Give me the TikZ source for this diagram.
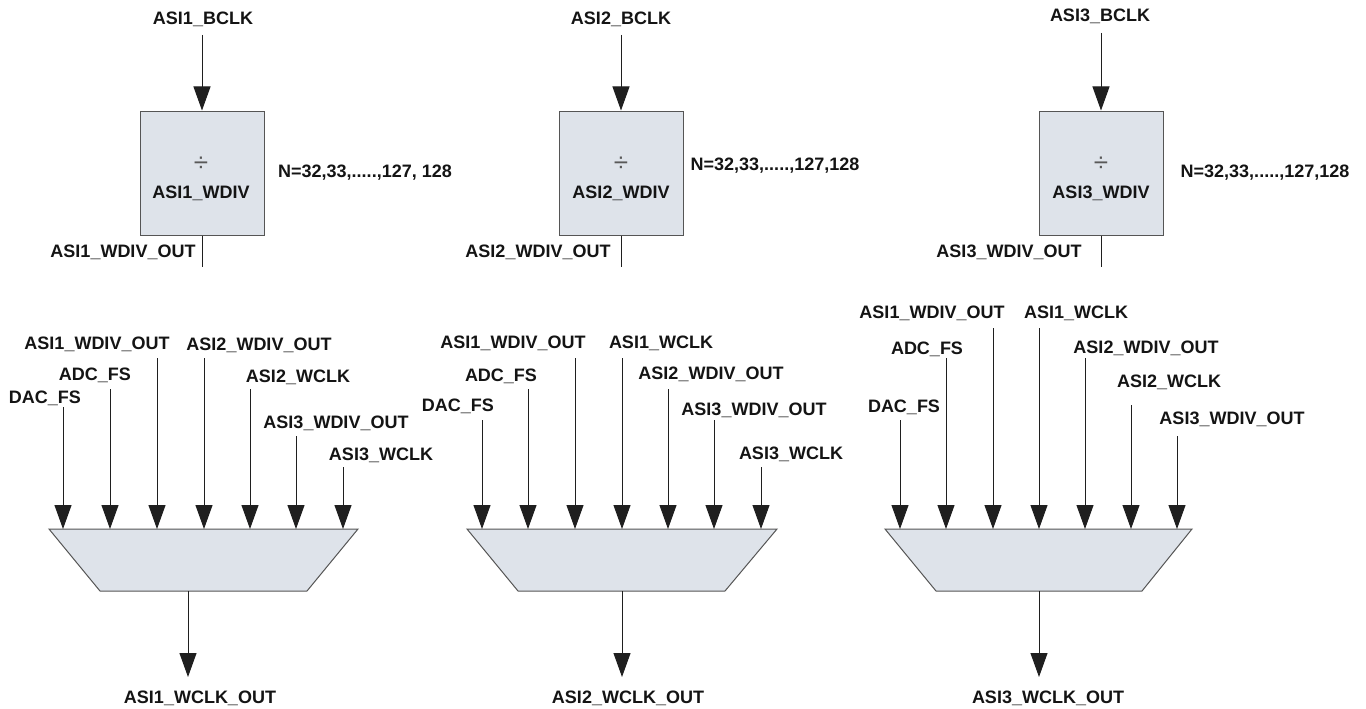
\documentclass[tikz,border=0pt]{standalone}
\usepackage{fontspec}
\setmainfont{Liberation Sans}
\usetikzlibrary{arrows.meta}
\definecolor{boxfill}{RGB}{222,227,234}
\definecolor{edgegray}{RGB}{85,85,85}
\begin{document}
\begin{tikzpicture}[x=1pt,y=-1pt,
  lbl/.style={font=\fontsize{18}{20}\selectfont\bfseries, inner sep=0pt, anchor=base, text=black!92},
  divsym/.style={font=\fontsize{26}{28}\selectfont, inner sep=0pt, anchor=base, text=black!65},
  arr/.style={draw=black!88, line width=1pt, -{Triangle[length=24pt,width=17pt]}},
  wire/.style={draw=black!88, line width=1pt},
  divbox/.style={draw=edgegray, fill=boxfill, line width=1pt, minimum width=124pt, minimum height=124pt, inner sep=0pt},
  muxshape/.style={draw=edgegray, fill=boxfill, line width=1pt}]
\useasboundingbox (0,0) rectangle (1366,709);

% ---------- divider blocks ----------
\node[divbox] (box1) at (202,173) {};
\node[divbox] (box2) at (621,173) {};
\node[divbox] (box3) at (1101,173) {};

\node[divsym] (sym1) at (201,171) {÷};
\node[divsym] (sym2) at (621,171) {÷};
\node[divsym] (sym3) at (1101,171) {÷};
\node[lbl] (wdiv1) at (201,198) {ASI1\_WDIV};
\node[lbl] (wdiv2) at (621,198) {ASI2\_WDIV};
\node[lbl] (wdiv3) at (1101,198) {ASI3\_WDIV};

\node[lbl] (bclk1) at (203,25) {ASI1\_BCLK};
\node[lbl] (bclk2) at (621,25) {ASI2\_BCLK};
\node[lbl] (bclk3) at (1100,22) {ASI3\_BCLK};
\coordinate (bclk1s) at (202,35);
\coordinate (bclk2s) at (621,35);
\coordinate (bclk3s) at (1101,33);
\draw[arr] (bclk1s) -- (box1.north);
\draw[arr] (bclk2s) -- (box2.north);
\draw[arr] (bclk3s) -- (box3.north);

\node[lbl] (n1) at (365,177) {N=32,33,.....,127, 128};
\node[lbl] (n2) at (775,170) {N=32,33,.....,127,128};
\node[lbl] (n3) at (1265,177) {N=32,33,.....,127,128};

\coordinate (wo1) at (202,267);
\coordinate (wo2) at (621,267);
\coordinate (wo3) at (1101,267);
\draw[wire] (box1.south) -- (wo1);
\draw[wire] (box2.south) -- (wo2);
\draw[wire] (box3.south) -- (wo3);
\node[lbl] (wol1) at (123,257) {ASI1\_WDIV\_OUT};
\node[lbl] (wol2) at (538,257) {ASI2\_WDIV\_OUT};
\node[lbl] (wol3) at (1009,257) {ASI3\_WDIV\_OUT};

% ---------- muxes ----------
\path[muxshape] (49,529) -- (358,529) -- (307,591) -- (100,591) -- cycle;
\path[muxshape] (467,529) -- (777,529) -- (725,591) -- (518,591) -- cycle;
\path[muxshape] (885,529) -- (1192,529) -- (1142,591) -- (936,591) -- cycle;

% mux inputs
\foreach \n/\x/\y in {pa/63/407, pb/110/389, pc/157/358, pd/204/358, pe/250/389, pf/296/436, pg/343/467,
                       qa/482/420, qb/528/389, qc/575/358, qd/622/358, qe/668/389, qf/714/420, qg/761/467,
                       ra/900/420, rb/946/358, rc/993/328, rd/1039/328, re/1085/358, rf/1131/405, rg/1177/436}{
  \coordinate (\n s) at (\x,\y);
  \coordinate (\n e) at (\x,529);
  \draw[arr] (\n s) -- (\n e);
}

% mux 1 labels
\node[lbl] (l1a) at (97,349) {ASI1\_WDIV\_OUT};
\node[lbl] (l1b) at (259,350) {ASI2\_WDIV\_OUT};
\node[lbl] (l1c) at (95,380) {ADC\_FS};
\node[lbl] (l1d) at (298,382) {ASI2\_WCLK};
\node[lbl] (l1e) at (45,403) {DAC\_FS};
\node[lbl] (l1f) at (336,428) {ASI3\_WDIV\_OUT};
\node[lbl] (l1g) at (381,460) {ASI3\_WCLK};

% mux 2 labels
\node[lbl] (l2a) at (513,348) {ASI1\_WDIV\_OUT};
\node[lbl] (l2b) at (661,348) {ASI1\_WCLK};
\node[lbl] (l2c) at (501,381) {ADC\_FS};
\node[lbl] (l2d) at (711,379) {ASI2\_WDIV\_OUT};
\node[lbl] (l2e) at (458,411) {DAC\_FS};
\node[lbl] (l2f) at (754,415) {ASI3\_WDIV\_OUT};
\node[lbl] (l2g) at (791,459) {ASI3\_WCLK};

% mux 3 labels
\node[lbl] (l3a) at (932,318) {ASI1\_WDIV\_OUT};
\node[lbl] (l3b) at (1076,318) {ASI1\_WCLK};
\node[lbl] (l3c) at (927,354) {ADC\_FS};
\node[lbl] (l3d) at (1146,353) {ASI2\_WDIV\_OUT};
\node[lbl] (l3e) at (1169,387) {ASI2\_WCLK};
\node[lbl] (l3f) at (904,412) {DAC\_FS};
\node[lbl] (l3g) at (1232,424) {ASI3\_WDIV\_OUT};

% outputs
\coordinate (m1o) at (188,591);
\coordinate (m2o) at (622,591);
\coordinate (m3o) at (1039,591);
\coordinate (m1t) at (188,677);
\coordinate (m2t) at (622,677);
\coordinate (m3t) at (1039,677);
\draw[arr] (m1o) -- (m1t);
\draw[arr] (m2o) -- (m2t);
\draw[arr] (m3o) -- (m3t);
\node[lbl] (out1) at (200,703) {ASI1\_WCLK\_OUT};
\node[lbl] (out2) at (628,703) {ASI2\_WCLK\_OUT};
\node[lbl] (out3) at (1048,703) {ASI3\_WCLK\_OUT};
\end{tikzpicture}
\end{document}
